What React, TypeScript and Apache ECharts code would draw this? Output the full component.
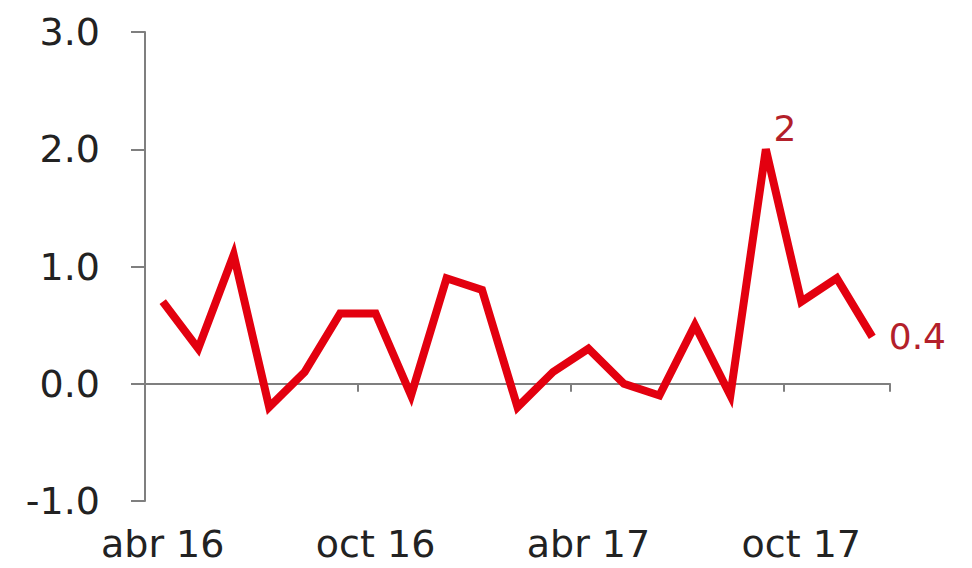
import React, { useEffect, useRef } from "react";
import * as echarts from "echarts";

const categories = [
  "abr 16", "may 16", "jun 16", "jul 16", "ago 16", "sep 16",
  "oct 16", "nov 16", "dic 16", "ene 17", "feb 17", "mar 17",
  "abr 17", "may 17", "jun 17", "jul 17", "ago 17", "sep 17",
  "oct 17", "nov 17", "dic 17",
];
const values = [
  0.7, 0.3, 1.1, -0.2, 0.1, 0.6, 0.6, -0.1, 0.9, 0.8, -0.2, 0.1,
  0.3, 0.0, -0.1, 0.5, -0.1, 2.0, 0.7, 0.9, 0.4,
];
const labelledPeakIndex = 17;
const labelledLastIndex = values.length - 1;
const yMin = -1;
const yMax = 3;
const yInterval = 1;

const FONT = "DejaVu Sans";
const AXIS_GRAY = "#7f7f7f";
const LINE_RED = "#e3000f";
const LABEL_RED = "#b3202a";

export default function App() {
  const ref = useRef<HTMLDivElement>(null);

  useEffect(() => {
    if (!ref.current) return;
    const chart = echarts.init(ref.current, undefined, { renderer: "svg" });

    const labelBase = {
      show: true,
      fontFamily: FONT,
      fontSize: 36,
      color: LABEL_RED,
      formatter: (p: any) => String(Number(p.value)),
    };

    const seriesData = values.map((v, i) => {
      if (i === labelledPeakIndex) {
        return {
          value: v,
          label: { ...labelBase, position: "top", distance: 2, offset: [19, 0] },
        };
      }
      if (i === labelledLastIndex) {
        return {
          value: v,
          label: { ...labelBase, position: "right", distance: 16 },
        };
      }
      return v;
    });

    chart.setOption({
      animation: false,
      backgroundColor: "#ffffff",
      grid: { left: 145, right: 82, top: 32, bottom: 67, containLabel: false },
      xAxis: [
        {
          type: "category",
          data: categories,
          position: "bottom",
          boundaryGap: true,
          axisLine: { show: false, onZero: false },
          axisTick: { show: false },
          axisLabel: {
            interval: 5,
            margin: 24,
            fontFamily: FONT,
            fontSize: 38,
            color: "#222222",
          },
          splitLine: { show: false },
        },
        {
          type: "category",
          data: categories,
          position: "bottom",
          boundaryGap: true,
          axisLine: { show: true, onZero: true, lineStyle: { color: AXIS_GRAY, width: 2 } },
          axisTick: {
            show: true,
            interval: (index: number) => index % 6 === 0,
            length: 8,
            lineStyle: { color: AXIS_GRAY, width: 2 },
          },
          axisLabel: { show: false },
          splitLine: { show: false },
        },
      ],
      yAxis: {
        type: "value",
        min: yMin,
        max: yMax,
        interval: yInterval,
        axisLine: { show: true, onZero: false, lineStyle: { color: AXIS_GRAY, width: 2 } },
        axisTick: { show: true, length: 14, lineStyle: { color: AXIS_GRAY, width: 2 } },
        axisLabel: {
          margin: 45,
          fontFamily: FONT,
          fontSize: 38,
          color: "#222222",
          formatter: (v: number) => v.toFixed(1),
        },
        splitLine: { show: false },
      },
      series: [
        {
          type: "line",
          xAxisIndex: 0,
          data: seriesData,
          symbol: "circle",
          symbolSize: 1,
          showSymbol: true,
          itemStyle: { color: "rgba(0,0,0,0)" },
          lineStyle: { color: LINE_RED, width: 8, join: "miter" },
          label: { show: false, fontFamily: FONT, fontSize: 36, color: LABEL_RED },
          z: 3,
        },
      ],
    });

    return () => chart.dispose();
  }, []);

  return (
    <div
      ref={ref}
      style={{ position: "absolute", left: 0, top: 0, width: 972, height: 568 }}
    />
  );
}
